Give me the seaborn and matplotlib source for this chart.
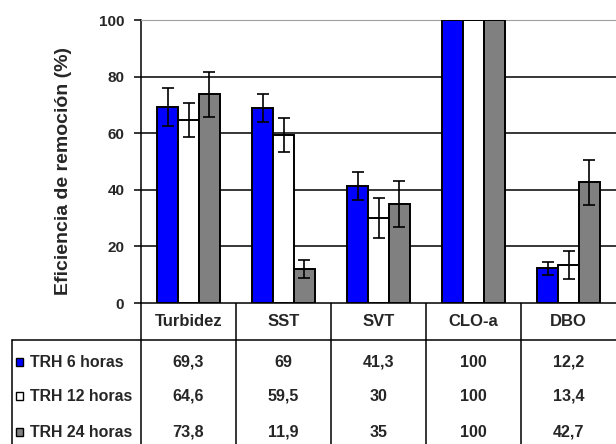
import pandas as pd
import matplotlib.pyplot as plt
import seaborn as sns

# Data
categories = ["Turbidez", "SST", "SVT", "CLO-a", "DBO"]
series = ["TRH 6 horas", "TRH 12 horas", "TRH 24 horas"]
trh6 = [69.3, 69, 41.3, 100, 12.2]
trh12 = [64.6, 59.5, 30, 100, 13.4]
trh24 = [73.8, 11.9, 35, 100, 42.7]
err6 = [6.8, 5.0, 5.0, 0, 2.2]
err12 = [6.0, 6.0, 7.0, 0, 5.0]
err24 = [8.0, 3.2, 8.0, 0, 8.0]
labels6 = ["69,3", "69", "41,3", "100", "12,2"]
labels12 = ["64,6", "59,5", "30", "100", "13,4"]
labels24 = ["73,8", "11,9", "35", "100", "42,7"]

colors = ["#0000ff", "#ffffff", "#808080"]
values = [trh6, trh12, trh24]
errors = [err6, err12, err24]
cell_labels = [labels6, labels12, labels24]

rows = []
for s, vals in zip(series, values):
    for c, v in zip(categories, vals):
        rows.append({"categoria": c, "serie": s, "valor": v})
df = pd.DataFrame(rows)

sns.set_style("white")
plt.rcParams['font.family'] = ['Liberation Sans', 'DejaVu Sans']
plt.rcParams['font.weight'] = 'bold'

W, H = 616, 444
fig = plt.figure(figsize=(W / 100, H / 100), dpi=100)

# Main plot area (pixel layout of the reference)
x0, x1, ytop, ybot = 141, 616, 20, 303
ax = fig.add_axes([x0 / W, (H - ybot) / H, (x1 - x0) / W, (ybot - ytop) / H])

sns.barplot(data=df, x="categoria", y="valor", hue="serie", palette=colors,
            order=categories, hue_order=series, width=0.66, gap=0,
            edgecolor="black", linewidth=1.4, errorbar=None, legend=False,
            saturation=1, ax=ax, zorder=3)

# error bars on top of the bars
for cont, err in zip(ax.containers, errors):
    for bar, e in zip(cont, err):
        if e > 0:
            xc = bar.get_x() + bar.get_width() / 2
            ax.errorbar(xc, bar.get_height(), yerr=e, color="black",
                        elinewidth=1.2, capsize=4.5, capthick=1.2, zorder=4)

ax.set_xlim(-0.5, len(categories) - 0.5)
ax.set_ylim(0, 100)
ax.set_yticks([0, 20, 40, 60, 80, 100])
ax.set_xticks([])
ax.set_xlabel("")
ax.yaxis.grid(True, color="black", linewidth=1.1)
ax.set_axisbelow(True)
ax.get_ygridlines()[-1].set_color("#a0a0a0")
ax.tick_params(axis="y", left=True, length=5, width=1.1, color="black",
               pad=7, labelsize=11)
for lab in ax.get_yticklabels():
    lab.set_fontweight("bold")
ax.spines["right"].set_visible(False)
ax.spines["top"].set_color("#a0a0a0")
ax.spines["left"].set_color("black")
ax.spines["left"].set_linewidth(1.1)
ax.spines["bottom"].set_visible(False)
ax.set_ylabel("Eficiencia de remoción (%)", fontsize=14, fontweight="bold")
ax.yaxis.set_label_coords(-0.145, 0.465)

# Data table below the plot, in pixel coordinates
tab = fig.add_axes([0, 0, 1, 1], zorder=-1)
tab.set_xlim(0, W)
tab.set_ylim(H, 0)
tab.axis("off")
colw = (x1 - x0) / len(categories)
lw = 1.1
tab.plot([x0, W], [ybot, ybot], color="black", lw=lw)
tab.plot([12, W], [340, 340], color="black", lw=lw)
tab.plot([12, 12], [340, H], color="black", lw=lw)
for i in range(len(categories)):
    xl = x0 + i * colw
    tab.plot([xl, xl], [ybot, H], color="black", lw=lw)
    tab.text(xl + colw / 2, 321, categories[i], ha="center", va="center",
             fontsize=12, fontweight="bold")

row_y = [362, 396, 432]
for s, col, labs, yy in zip(series, colors, cell_labels, row_y):
    tab.add_patch(plt.Rectangle((16, yy - 4), 7, 8, facecolor=col,
                                edgecolor="black", lw=1))
    tab.text(30, yy, s, ha="left", va="center", fontsize=11.4, fontweight="bold")
    for i, t in enumerate(labs):
        tab.text(x0 + i * colw + colw / 2, yy, t, ha="center", va="center",
                 fontsize=11.6, fontweight="bold")

fig.savefig("out.png", dpi=100)
